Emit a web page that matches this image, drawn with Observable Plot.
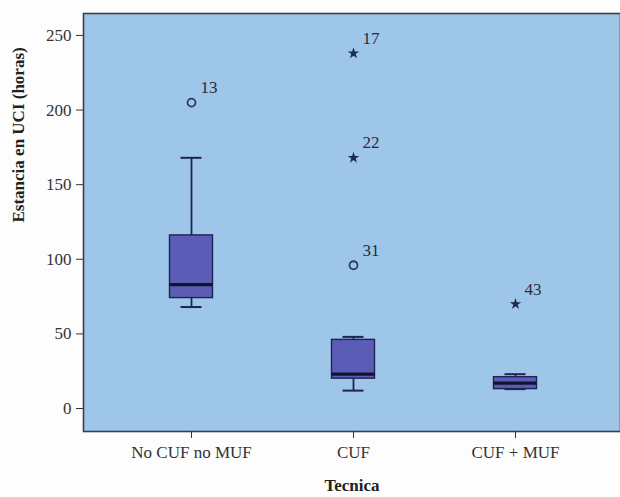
<!DOCTYPE html>
<html>
<head>
<meta charset="utf-8">
<script src="https://cdn.jsdelivr.net/npm/d3@7"></script>
<script src="https://cdn.jsdelivr.net/npm/@observablehq/plot@0.6"></script>
<style>
  html, body { margin: 0; padding: 0; background: #fdfdfd; overflow: hidden; }
</style>
</head>
<body>
<div id="chart"></div>
<script>
const categories = ["No CUF no MUF", "CUF", "CUF + MUF"];
const q1 = [74, 20, 13];
const medians = [83, 23, 17];
const q3 = [116, 46, 21];
const whiskerLow = [68, 12, 13];
const whiskerHigh = [168, 48, 23];
const yTicks = [0, 50, 100, 150, 200, 250];

const outlierCategory = ["No CUF no MUF", "CUF", "CUF", "CUF", "CUF + MUF"];
const outlierValue = [205, 238, 168, 96, 70];
const outlierLabel = ["13", "17", "22", "31", "43"];
const outlierKind = ["circle", "star", "star", "circle", "star"];

const boxes = categories.map((c, i) => ({
  cat: c, q1: q1[i], med: medians[i], q3: q3[i], lo: whiskerLow[i], hi: whiskerHigh[i]
}));
const outliers = outlierCategory.map((c, i) => ({
  cat: c, v: outlierValue[i], label: outlierLabel[i], kind: outlierKind[i]
}));

const bg = "#9ec6e9";
const boxFill = "#5a5cb6";
const dark = "#1f2452";
const serif = "'Liberation Serif', 'DejaVu Serif', serif";

const plot = Plot.plot({
  width: 620,
  height: 497,
  marginLeft: 83,
  marginRight: 0,
  marginTop: 13,
  marginBottom: 66,
  style: { fontFamily: serif, fontSize: "17px", background: "#fdfdfd", color: "#333" },
  x: { type: "band", domain: categories, range: [110, 596], padding: 0, label: null },
  y: { domain: [-15.4, 264.7], label: null },
  marks: [
    Plot.frame({ fill: bg, stroke: "#3a3f4a", strokeWidth: 1.6 }),
    Plot.axisY({ ticks: yTicks, tickSize: 7, tickPadding: 5, fontSize: 17, stroke: "#333", fill: "#333", label: null }),
    Plot.axisX({ tickSize: 7, tickPadding: 7, fontSize: 17, stroke: "#333", fill: "#333", label: null, style: { letterSpacing: "0.6px" } }),
    Plot.ruleX(boxes, { x: "cat", y1: "lo", y2: "q1", stroke: dark, strokeWidth: 1.8 }),
    Plot.ruleX(boxes, { x: "cat", y1: "q3", y2: "hi", stroke: dark, strokeWidth: 1.8 }),
    Plot.tickY(boxes, { x: "cat", y: "lo", stroke: dark, strokeWidth: 2, inset: 70.5 }),
    Plot.tickY(boxes, { x: "cat", y: "hi", stroke: dark, strokeWidth: 2, inset: 70.5 }),
    Plot.barY(boxes, { x: "cat", y1: "q1", y2: "q3", fill: boxFill, stroke: dark, strokeWidth: 1.4, insetLeft: 59.5, insetRight: 59.5 }),
    Plot.tickY(boxes, { x: "cat", y: "med", stroke: "#11142e", strokeWidth: 3.2, inset: 59.5 }),
    Plot.dot(outliers.filter(d => d.kind === "circle"), { x: "cat", y: "v", r: 4, stroke: "#2a3a68", strokeWidth: 1.8, fill: "none" }),
    Plot.dot(outliers.filter(d => d.kind === "star"), { x: "cat", y: "v", symbol: "star", r: 3.6, fill: "#1f2a50", stroke: "none" }),
    Plot.text(outliers, { x: "cat", y: "v", text: "label", dx: 9, dy: -15, textAnchor: "start", fontSize: 17, fill: "#2a2a3a" }),
    Plot.text(["Estancia en UCI (horas)"], { frameAnchor: "left", dx: -65, rotate: -90, fontWeight: "bold", fontSize: 17, fill: "#222" }),
    Plot.text(["Tecnica"], { frameAnchor: "bottom", dy: 59, fontWeight: "bold", fontSize: 17, fill: "#222" })
  ]
});
document.getElementById("chart").appendChild(plot);
</script>
</body>
</html>
